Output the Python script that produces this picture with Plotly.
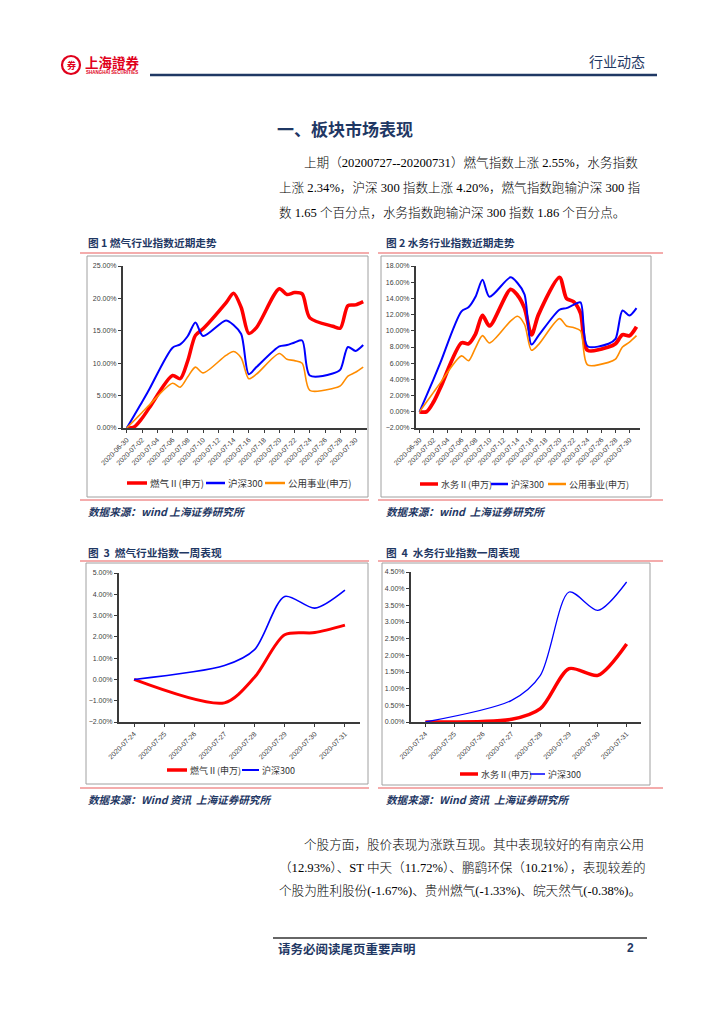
import plotly.graph_objects as go

W, H = 724, 1024

# ---------------- data ----------------
dates_month = ["2020-06-30", "2020-07-01", "2020-07-02", "2020-07-03", "2020-07-06",
               "2020-07-07", "2020-07-08", "2020-07-09", "2020-07-10", "2020-07-13",
               "2020-07-14", "2020-07-15", "2020-07-16", "2020-07-17", "2020-07-20",
               "2020-07-21", "2020-07-22", "2020-07-23", "2020-07-24", "2020-07-27",
               "2020-07-28", "2020-07-29", "2020-07-30", "2020-07-31"]
gas_month = [0, 0.2, 1.5, 3.2, 8.1, 7.6, 10.4, 14.3, 15.3, 19.3, 20.8, 18.6,
             14.6, 15.5, 21.5, 20.6, 20.9, 20.7, 17.0, 15.7, 15.4, 18.9, 19.0, 19.5]
water_month = [0, 0.0, 1.2, 3.0, 8.5, 8.4, 9.6, 11.9, 10.6, 15.1, 14.4, 12.8,
               9.5, 12.0, 16.6, 14.0, 13.6, 12.2, 7.6, 8.0, 8.4, 9.5, 9.4, 10.5]
hs300_month = [0, 2.0, 4.0, 6.1, 12.4, 12.9, 14.2, 16.3, 14.2, 16.6, 15.9, 14.5,
               8.3, 9.4, 12.6, 12.8, 13.2, 13.5, 8.1, 8.4, 9.0, 12.5, 11.9, 12.8]
utility_month = [0, 1.2, 2.4, 3.6, 6.9, 6.3, 7.9, 9.4, 8.5, 11.2, 11.8, 10.8,
                 7.6, 8.3, 11.5, 10.6, 10.4, 10.0, 5.8, 6.1, 6.5, 8.0, 8.6, 9.4]

dates_week = ["2020-07-24", "2020-07-27", "2020-07-28", "2020-07-29", "2020-07-30", "2020-07-31"]
gas_week = [0, -1.1, 0.1, 2.1, 2.2, 2.55]
water_week = [0, 0.08, 0.4, 1.6, 1.4, 2.34]
hs300_week = [0, 0.65, 1.4, 3.9, 3.35, 4.2]

month_ticks = ["2020-06-30", "2020-07-02", "2020-07-04", "2020-07-06", "2020-07-08",
               "2020-07-10", "2020-07-12", "2020-07-14", "2020-07-16", "2020-07-18",
               "2020-07-20", "2020-07-22", "2020-07-24", "2020-07-26", "2020-07-28",
               "2020-07-30"]
week_ticks = ["2020-07-24", "2020-07-25", "2020-07-26", "2020-07-27", "2020-07-28",
              "2020-07-29", "2020-07-30", "2020-07-31"]

name_gas = "燃气Ⅱ(申万)"
name_water = "水务Ⅱ(申万)"
name_hs = "沪深300"
name_util = "公用事业(申万)"

# ---------------- styles ----------------
RED = "#ff0000"
BLUE = "#0000ff"
ORANGE = "#ff8c00"
NAVY = "#1f3864"
PINK = "#f09090"
AXC = "#3a3a3a"
TICKC = "#404040"
CJK = "Noto Sans CJK SC"
SERIF = "Liberation Serif, Noto Sans CJK SC"


def px(x):
    return x / W


def py(y):
    return 1 - y / H


fig = go.Figure()


def add_line(x, y, name, color, width, ax):
    fig.add_trace(go.Scatter(
        x=x, y=y, name=name, mode="lines",
        line=dict(color=color, width=width, shape="spline", smoothing=0.8),
        xaxis="x" + ax, yaxis="y" + ax, showlegend=False, hoverinfo="skip"))


# chart 1
add_line(dates_month, gas_month, name_gas, RED, 3.5, "")
add_line(dates_month, hs300_month, name_hs, BLUE, 2, "")
add_line(dates_month, utility_month, name_util, ORANGE, 1.6, "")
# chart 2
add_line(dates_month, water_month, name_water, RED, 3.8, "2")
add_line(dates_month, hs300_month, name_hs, BLUE, 2, "2")
add_line(dates_month, utility_month, name_util, ORANGE, 1.6, "2")
# chart 3
add_line(dates_week, gas_week, name_gas, RED, 3, "3")
add_line(dates_week, hs300_week, name_hs, BLUE, 1.6, "3")
# chart 4
add_line(dates_week, water_week, name_water, RED, 3.5, "4")
add_line(dates_week, hs300_week, name_hs, BLUE, 1.3, "4")


def xaxis(dom, rng, ticks):
    return dict(domain=[px(dom[0]), px(dom[1])], type="date", range=rng,
                tickmode="array", tickvals=ticks, tickformat="%Y-%m-%d",
                tickangle=-45, showline=True, linecolor=AXC, linewidth=2,
                ticks="outside", ticklen=3, tickcolor=AXC, showgrid=False,
                zeroline=False, automargin=False,
                tickfont=dict(size=7, color=TICKC, family="Liberation Sans"))


def yaxis(dom, rng, dtick, anchor):
    return dict(domain=[py(dom[1]), py(dom[0])], range=rng, dtick=dtick,
                tickformat=".2f", ticksuffix="%", showline=True, linecolor=AXC,
                linewidth=2, ticks="outside", ticklen=3, tickcolor=AXC,
                showgrid=False, zeroline=False, anchor=anchor, automargin=False,
                tickfont=dict(size=7, color=TICKC, family="Liberation Sans"))


month_range = ["2020-06-29 12:00", "2020-07-31 12:00"]
week_range = ["2020-07-23 12:00", "2020-07-31 12:00"]

layout_axes = dict(
    xaxis=dict(xaxis((123, 367), month_range, month_ticks), anchor="y"),
    yaxis=yaxis((266, 428), [0, 25], 5, "x"),
    xaxis2=dict(xaxis((416, 640), month_range, month_ticks), anchor="y2"),
    yaxis2=yaxis((266, 428), [-2, 18], 2, "x2"),
    xaxis3=dict(xaxis((119, 360), week_range, week_ticks), anchor="y3"),
    yaxis3=yaxis((573, 722), [-2, 5], 1, "x3"),
    xaxis4=dict(xaxis((411, 641), week_range, week_ticks), anchor="y4"),
    yaxis4=yaxis((572, 722), [0, 4.5], 0.5, "x4"),
)

annotations = []
shapes = []


def txt(x, y, s, size, color="#000000", family=CJK, anchor="left", weight=None):
    font = dict(size=size, color=color, family=family)
    if weight is not None:
        font["weight"] = weight
    annotations.append(dict(x=px(x), y=py(y), xref="paper", yref="paper", text=s,
                            showarrow=False, xanchor=anchor, yanchor="middle",
                            font=font))


def hline(x0, x1, y, color, width):
    shapes.append(dict(type="line", xref="paper", yref="paper", x0=px(x0), x1=px(x1),
                       y0=py(y), y1=py(y), line=dict(color=color, width=width)))


def box(x0, y0, x1, y1, color="#a0a0a0", width=1):
    shapes.append(dict(type="rect", xref="paper", yref="paper", x0=px(x0), x1=px(x1),
                       y0=py(y1), y1=py(y0), line=dict(color=color, width=width),
                       layer="below"))


# ---------------- header ----------------
shapes.append(dict(type="circle", xref="paper", yref="paper",
                   x0=px(62), x1=px(80), y0=py(74), y1=py(56),
                   line=dict(color="#e0001b", width=2.2)))
txt(71, 65, "<b>券</b>", 9, "#e0001b", CJK, "center")
txt(83, 62, "<b>上海證券</b>", 13.5, "#e0001b")
txt(84, 72.5, "<b>SHANGHAI SECURITIES</b>", 4.5, "#e0001b", "Liberation Sans")
txt(587, 61, "行业动态", 14, NAVY)
hline(150, 657, 75, NAVY, 2.5)

txt(345, 128, "<b>一、板块市场表现</b>", 17, NAVY, CJK, "center")

para1 = ["上期（20200727--20200731）燃气指数上涨 2.55%，水务指数",
         "上涨 2.34%，沪深 300 指数上涨 4.20%，燃气指数跑输沪深 300 指",
         "数 1.65 个百分点，水务指数跑输沪深 300 指数 1.86 个百分点。"]
PSIZE = 12.6
txt(302, 163, para1[0], PSIZE, "#000000", SERIF, weight=300)
txt(277, 188, para1[1], PSIZE, "#000000", SERIF, weight=300)
txt(277, 213, para1[2], PSIZE, "#000000", SERIF, weight=300)

# ---------------- figure frames ----------------
for (xl, xr, bx0, bx1, ty, ly0, by0, by1, ly1, sy, title, src) in [
    (80, 369, 87, 368, 242, 253, 256, 497, 500, 511, "<b>图 1 燃气行业指数近期走势</b>",
     "<b><i>数据来源：wind 上海证券研究所</i></b>"),
    (378, 663, 381, 651, 242, 253, 256, 497, 500, 511, "<b>图 2 水务行业指数近期走势</b>",
     "<b><i>数据来源：wind  上海证券研究所</i></b>"),
    (80, 369, 86, 368, 552, 561, 563, 784, 788, 799, "<b>图  3  燃气行业指数一周表现</b>",
     "<b><i>数据来源：Wind 资讯  上海证券研究所</i></b>"),
    (378, 663, 382, 650, 552, 561, 563, 785, 788, 799, "<b>图  4  水务行业指数一周表现</b>",
     "<b><i>数据来源：Wind 资讯  上海证券研究所</i></b>"),
]:
    txt(xl + 6, ty, title, 10.7, NAVY)
    hline(xl, xr, ly0, PINK, 1.5)
    box(bx0, by0, bx1, by1)
    hline(xl, xr, ly1, PINK, 1.5)
    txt(xl + 6, sy, src, 10.6, NAVY)


# ---------------- legends ----------------
def legend_item(x0, x1, y, color, width, label, size=9):
    hline(x0, x1, y, color, width)
    txt(x1 + 1, y, label, size, "#333333")


legend_item(127, 147, 483, RED, 3.5, name_gas, 9.5)
legend_item(206, 225, 483, BLUE, 2.5, name_hs, 9.5)
legend_item(265, 285, 483, ORANGE, 2.5, name_util, 9.5)

legend_item(420, 438, 484, RED, 3.5, name_water)
legend_item(491, 508, 484, BLUE, 2.5, name_hs)
legend_item(548, 566, 484, ORANGE, 2.5, name_util)

legend_item(167, 187, 770, RED, 3.5, name_gas)
legend_item(242, 259, 770, BLUE, 2, name_hs)

legend_item(460, 478, 774, RED, 3.5, name_water)
legend_item(530, 545, 774, BLUE, 1.5, name_hs)

# ---------------- bottom paragraph ----------------
para2 = ["个股方面，股价表现为涨跌互现。其中表现较好的有南京公用",
         "（12.93%）、ST 中天（11.72%）、鹏鹞环保（10.21%），表现较差的",
         "个股为胜利股份(-1.67%)、贵州燃气(-1.33%)、皖天然气(-0.38%)。"]
txt(302, 845, para2[0], PSIZE, "#000000", SERIF, weight=300)
txt(277, 868, para2[1], PSIZE, "#000000", SERIF, weight=300)
txt(277, 891, para2[2], PSIZE, "#000000", SERIF, weight=300)

# ---------------- footer ----------------
hline(273, 647, 938, "#333333", 1.3)
txt(276, 948, "<b>请务必阅读尾页重要声明</b>", 12.5, NAVY)
txt(636, 948, "<b>2</b>", 12, NAVY, "Liberation Sans", "right")

fig.update_layout(
    template="none",
    width=W, height=H, margin=dict(l=0, r=0, t=0, b=0, pad=0, autoexpand=False),
    paper_bgcolor="white", plot_bgcolor="rgba(0,0,0,0)",
    showlegend=False, annotations=annotations, shapes=shapes,
    **layout_axes)

fig.write_html("out.html", config={"displayModeBar": False},
               post_script="document.body.style.margin='0';document.body.style.overflow='hidden';")
